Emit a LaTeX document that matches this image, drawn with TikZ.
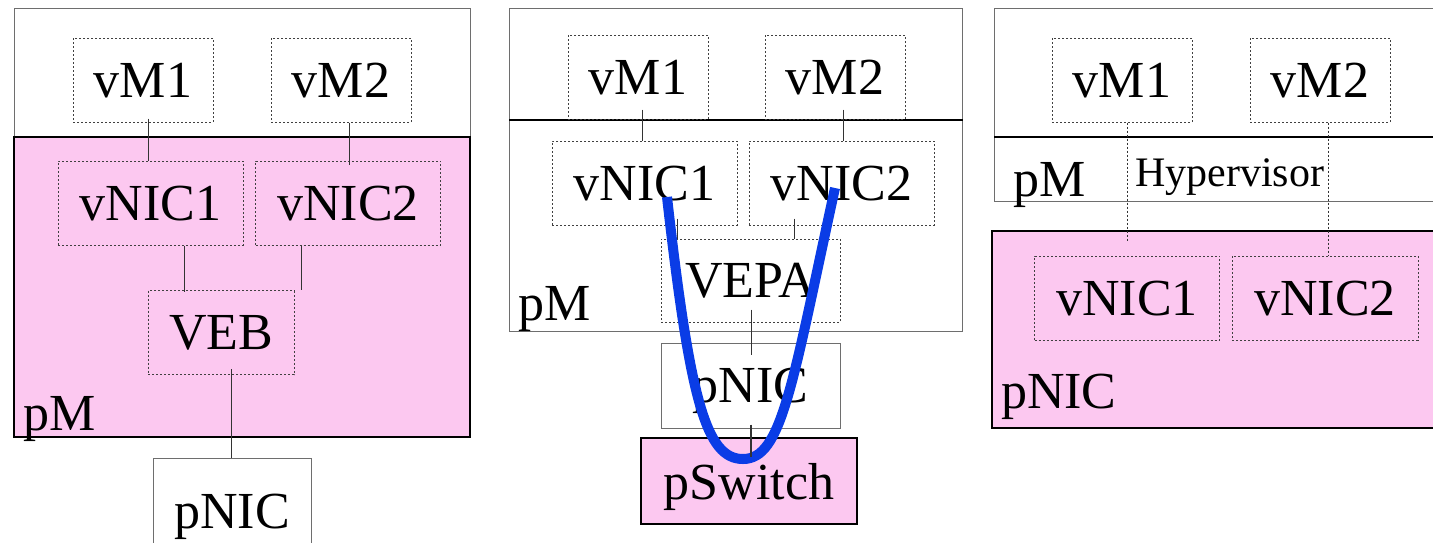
\documentclass[tikz,border=0pt]{standalone}
\usepackage{fontspec}
\setmainfont{Liberation Serif}
\definecolor{hostpink}{RGB}{252,200,240}
\definecolor{pathblue}{RGB}{10,60,230}
\definecolor{framegray}{RGB}{110,110,110}
\newcommand{\boxfont}{\fontsize{26}{30}\selectfont}
\newcommand{\hyperfont}{\fontsize{21}{25}\selectfont}
\tikzstyle{vbox}=[draw=black!75, line width=0.5pt, dash pattern=on 1pt off 1pt, inner sep=0, minimum height=42pt]
\tikzstyle{vm}=[vbox, minimum width=70pt]
\tikzstyle{vnic}=[vbox, minimum width=92.5pt]
\tikzstyle{pbox}=[draw=framegray, line width=0.5pt, inner sep=0]
\tikzstyle{hostbox}=[fill=hostpink, draw=black, line width=1.2pt]
\tikzstyle{link}=[line width=0.5pt, black!80]
\tikzstyle{vlink}=[link, dash pattern=on 1pt off 1pt]
\tikzstyle{diagram}=[x=0.5pt, y=-0.5pt,
                     % Labels sit on their baseline.
                     every node/.style={font=\boxfont, text depth=0pt}]

\begin{document}
\begin{tikzpicture}[diagram]
    \useasboundingbox (0,0) rectangle (1433,542);
    % VEB
    \draw[pbox] (14,137) -- (14,8) -- (470,8) -- (470,137);
    \draw[hostbox] (14,137) rectangle (470,437);
    \node[anchor=base west]                 (pmA)   at (16,430)    {pM};
    \node[vm]                               (vMa)   at (143,80)    {vM1};
    \node[vm]                               (vMb)   at (341,80)    {vM2};
    \node[vnic]                             (vNICa) at (150.5,203) {vNIC1};
    \node[vnic]                             (vNICb) at (348,203)   {vNIC2};
    \node[vbox, minimum width=73pt]         (VEB)   at (221,332.5) {VEB};
    \node[pbox, minimum width=79pt, minimum height=53pt] (pNICa) at (232,511) {pNIC};
    \draw[link, shorten <=-2pt] (vMa.south -| 148,0) -- (vNICa.north -| 148,0);
    \draw[link, shorten >=-2pt] (vMb.south -| 349,0) -- (vNICb.north -| 349,0);
    \draw[link, shorten >=-1pt] (vNICa.south -| 184,0) -- (VEB.north -| 184,0);
    \draw[link] (vNICb.south -| 301,0) -- (VEB.north -| 301,0);
    \draw[link, shorten <=-3pt] (VEB.south -| 231,0) -- (pNICa.north -| 231,0);

    % VEPA
    \draw[pbox] (509,8) rectangle (962,331);
    \draw[line width=1pt] (509,120) -- (963,120);
    \node[anchor=base west]                 (pmB)   at (511,320)   {pM};
    \node[vm]                               (vMc)   at (638,77)    {vM1};
    \node[vm]                               (vMd)   at (835,77)    {vM2};
    \node[vnic]                             (vNICc) at (644.5,183) {vNIC1};
    \node[vnic]                             (vNICd) at (841.5,183) {vNIC2};
    \node[vbox, minimum width=89.5pt, minimum height=41.5pt] (VEPA) at (750.5,280.5) {VEPA};
    \node[pbox, minimum width=89.5pt, minimum height=42.5pt] (pNICb) at (750.5,385.5) {pNIC};
    \node[pbox, hostbox, minimum width=108pt, minimum height=43pt] (pSwitch) at (749,481) {pSwitch};
    \draw[link, shorten <=-5pt] (vMc.south -| 642,0) -- (vNICc.north -| 642,0);
    \draw[link, shorten <=-5pt] (vMd.south -| 843,0) -- (vNICd.north -| 843,0);
    \draw[link, shorten <=-3.5pt] (vNICc.south -| 677,0) -- (VEPA.north -| 677,0);
    \draw[link, shorten <=-3.5pt] (vNICd.south -| 794,0) -- (VEPA.north -| 794,0);
    \draw[link, shorten <=-6.5pt, shorten >=-6pt] (VEPA.south -| 751,0) -- (pNICb.north -| 751,0);
    \coordinate (uIn)  at (667,197);
    \coordinate (uOut) at (835,188);
    \draw[pathblue, line width=5pt] (uIn) .. controls (690,400) and (706,459) .. (743,459)
                                          .. controls (782,459) and (792,385) .. (uOut);
    \draw[link, line width=1pt, shorten <=-2pt, shorten >=-10pt] (pNICb.south -| 751,0) -- (pSwitch.north -| 751,0);

    % pNIC with vNICs
    \draw[pbox] (1440,8) -- (994,8) -- (994,201) -- (1440,201);
    \draw[line width=1.2pt] (994,137) -- (1440,137);
    \draw[hostbox] (992,231) rectangle (1445,428);
    \node[anchor=base west]                 (pmC)   at (1006,196)  {pM};
    \node[anchor=base west, font=\hyperfont] (hyper) at (1128,186) {Hypervisor};
    \node[anchor=base west]                 (pNICc) at (994,408)   {pNIC};
    \node[vm]                               (vMe)   at (1122,80)   {vM1};
    \node[vm]                               (vMf)   at (1320,80)   {vM2};
    \node[vnic]                             (vNICe) at (1127,298)  {vNIC1};
    \node[vnic, minimum width=93pt]         (vNICf) at (1325,298)  {vNIC2};
    \draw[vlink, shorten >=6.5pt] (vMe.south -| 1127,0) -- (vNICe.north -| 1127,0);
    \draw[vlink] (vMf.south -| 1328,0) -- (vNICf.north -| 1328,0);
\end{tikzpicture}
\end{document}
